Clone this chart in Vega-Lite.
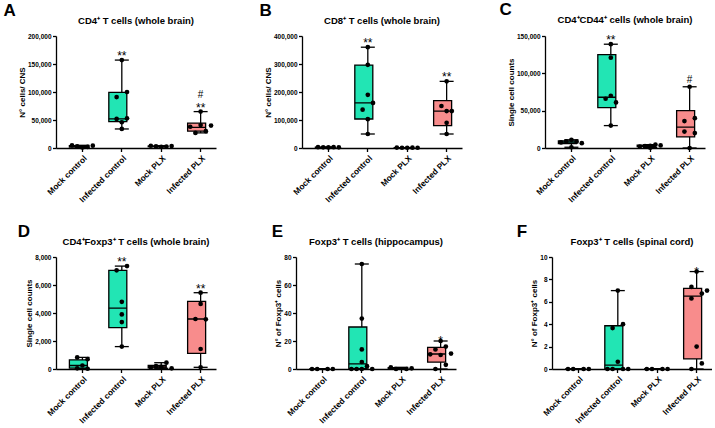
{
"$schema":"https://vega.github.io/schema/vega-lite/v6.json",
"background":"white",
"padding":{"left":3,"top":0,"right":0,"bottom":0},
"datasets":{
"box":[
{"p":"A","g":"Mock control","mn":1000,"q1":1800,"md":3000,"q3":4200,"mx":4800,"sig":"","hash":""},
{"p":"A","g":"Infected control","mn":34000,"q1":47000,"md":52000,"q3":99500,"mx":157000,"sig":"**","hash":""},
{"p":"A","g":"Mock PLX","mn":2000,"q1":2300,"md":3000,"q3":3500,"mx":4000,"sig":"","hash":""},
{"p":"A","g":"Infected PLX","mn":27000,"q1":30000,"md":37000,"q3":44500,"mx":65000,"sig":"**","hash":"#"},
{"p":"B","g":"Mock control","mn":2000,"q1":2200,"md":2500,"q3":3000,"mx":3000,"sig":"","hash":""},
{"p":"B","g":"Infected control","mn":50000,"q1":103600,"md":161000,"q3":296000,"mx":360000,"sig":"**","hash":""},
{"p":"B","g":"Mock PLX","mn":800,"q1":900,"md":1000,"q3":1350,"mx":1500,"sig":"","hash":""},
{"p":"B","g":"Infected PLX","mn":50000,"q1":80000,"md":132000,"q3":169000,"mx":238000,"sig":"**","hash":""},
{"p":"C","g":"Mock control","mn":1000,"q1":6000,"md":8000,"q3":9500,"mx":11000,"sig":"","hash":""},
{"p":"C","g":"Infected control","mn":30000,"q1":54000,"md":68000,"q3":125000,"mx":139000,"sig":"**","hash":""},
{"p":"C","g":"Mock PLX","mn":500,"q1":1800,"md":2800,"q3":3700,"mx":4500,"sig":"","hash":""},
{"p":"C","g":"Infected PLX","mn":0,"q1":15000,"md":28000,"q3":50000,"mx":82000,"sig":"","hash":"#"},
{"p":"D","g":"Mock control","mn":20,"q1":60,"md":250,"q3":650,"mx":830,"sig":"","hash":""},
{"p":"D","g":"Infected control","mn":1600,"q1":2950,"md":4350,"q3":7050,"mx":7350,"sig":"**","hash":""},
{"p":"D","g":"Mock PLX","mn":50,"q1":75,"md":150,"q3":250,"mx":450,"sig":"","hash":""},
{"p":"D","g":"Infected PLX","mn":120,"q1":1120,"md":3570,"q3":4830,"mx":5450,"sig":"**","hash":""},
{"p":"E","g":"Mock control","mn":0,"q1":0,"md":0,"q3":0,"mx":0,"sig":"","hash":""},
{"p":"E","g":"Infected control","mn":0,"q1":0.3,"md":3.7,"q3":30,"mx":75,"sig":"","hash":""},
{"p":"E","g":"Mock PLX","mn":0,"q1":0,"md":0.3,"q3":1,"mx":1.2,"sig":"","hash":""},
{"p":"E","g":"Infected PLX","mn":0,"q1":4.9,"md":10.7,"q3":15.4,"mx":20,"sig":"*","hash":""},
{"p":"F","g":"Mock control","mn":0,"q1":0,"md":0,"q3":0,"mx":0,"sig":"","hash":""},
{"p":"F","g":"Infected control","mn":0,"q1":0,"md":0.35,"q3":3.86,"mx":7,"sig":"","hash":""},
{"p":"F","g":"Mock PLX","mn":0,"q1":0,"md":0,"q3":0,"mx":0,"sig":"","hash":""},
{"p":"F","g":"Infected PLX","mn":0,"q1":0.9,"md":6.5,"q3":7.2,"mx":8.7,"sig":"*","hash":""}
],
"pts":[
{"p":"A","g":"Mock control","v":4800,"r":1},{"p":"A","g":"Mock control","v":3000,"r":2},{"p":"A","g":"Mock control","v":1000,"r":3},{"p":"A","g":"Mock control","v":2000,"r":4},{"p":"A","g":"Mock control","v":4200,"r":5},
{"p":"A","g":"Infected control","v":157000,"r":3},{"p":"A","g":"Infected control","v":100000,"r":4},{"p":"A","g":"Infected control","v":91000,"r":2},{"p":"A","g":"Infected control","v":53000,"r":4},{"p":"A","g":"Infected control","v":52000,"r":2},{"p":"A","g":"Infected control","v":46000,"r":3},{"p":"A","g":"Infected control","v":34000,"r":3},
{"p":"A","g":"Mock PLX","v":4000,"r":1},{"p":"A","g":"Mock PLX","v":3000,"r":2},{"p":"A","g":"Mock PLX","v":2000,"r":3},{"p":"A","g":"Mock PLX","v":2500,"r":4},{"p":"A","g":"Mock PLX","v":3500,"r":5},
{"p":"A","g":"Infected PLX","v":65000,"r":3},{"p":"A","g":"Infected PLX","v":38000,"r":1},{"p":"A","g":"Infected PLX","v":41000,"r":3},{"p":"A","g":"Infected PLX","v":40000,"r":5},{"p":"A","g":"Infected PLX","v":27000,"r":2},{"p":"A","g":"Infected PLX","v":30000,"r":4},
{"p":"B","g":"Mock control","v":3000,"r":1},{"p":"B","g":"Mock control","v":2500,"r":2},{"p":"B","g":"Mock control","v":2000,"r":3},{"p":"B","g":"Mock control","v":3000,"r":4},{"p":"B","g":"Mock control","v":2500,"r":5},
{"p":"B","g":"Infected control","v":360000,"r":3},{"p":"B","g":"Infected control","v":297000,"r":3},{"p":"B","g":"Infected control","v":190000,"r":3},{"p":"B","g":"Infected control","v":161000,"r":4},{"p":"B","g":"Infected control","v":137000,"r":2},{"p":"B","g":"Infected control","v":103000,"r":3},{"p":"B","g":"Infected control","v":50000,"r":3},
{"p":"B","g":"Mock PLX","v":1500,"r":1},{"p":"B","g":"Mock PLX","v":1000,"r":2},{"p":"B","g":"Mock PLX","v":800,"r":3},{"p":"B","g":"Mock PLX","v":1200,"r":4},{"p":"B","g":"Mock PLX","v":1000,"r":5},
{"p":"B","g":"Infected PLX","v":238000,"r":3},{"p":"B","g":"Infected PLX","v":150000,"r":2},{"p":"B","g":"Infected PLX","v":132000,"r":3},{"p":"B","g":"Infected PLX","v":132000,"r":4},{"p":"B","g":"Infected PLX","v":90000,"r":3},{"p":"B","g":"Infected PLX","v":50000,"r":3},
{"p":"C","g":"Mock control","v":11000,"r":3},{"p":"C","g":"Mock control","v":9000,"r":2},{"p":"C","g":"Mock control","v":8500,"r":4},{"p":"C","g":"Mock control","v":7500,"r":1},{"p":"C","g":"Mock control","v":6500,"r":5},{"p":"C","g":"Mock control","v":1000,"r":3},
{"p":"C","g":"Infected control","v":139000,"r":3},{"p":"C","g":"Infected control","v":121000,"r":3},{"p":"C","g":"Infected control","v":70000,"r":3},{"p":"C","g":"Infected control","v":66000,"r":2},{"p":"C","g":"Infected control","v":61000,"r":4},{"p":"C","g":"Infected control","v":30000,"r":3},
{"p":"C","g":"Mock PLX","v":4500,"r":4},{"p":"C","g":"Mock PLX","v":3500,"r":5},{"p":"C","g":"Mock PLX","v":3000,"r":3},{"p":"C","g":"Mock PLX","v":2500,"r":2},{"p":"C","g":"Mock PLX","v":2000,"r":1},{"p":"C","g":"Mock PLX","v":500,"r":3},
{"p":"C","g":"Infected PLX","v":82000,"r":3},{"p":"C","g":"Infected PLX","v":40000,"r":4},{"p":"C","g":"Infected PLX","v":36000,"r":2},{"p":"C","g":"Infected PLX","v":22000,"r":2},{"p":"C","g":"Infected PLX","v":20000,"r":4},{"p":"C","g":"Infected PLX","v":0,"r":3},
{"p":"D","g":"Mock control","v":830,"r":2},{"p":"D","g":"Mock control","v":700,"r":4},{"p":"D","g":"Mock control","v":250,"r":3},{"p":"D","g":"Mock control","v":50,"r":2},{"p":"D","g":"Mock control","v":20,"r":4},
{"p":"D","g":"Infected control","v":7350,"r":4},{"p":"D","g":"Infected control","v":7050,"r":2},{"p":"D","g":"Infected control","v":4800,"r":3},{"p":"D","g":"Infected control","v":3900,"r":3},{"p":"D","g":"Infected control","v":3350,"r":3},{"p":"D","g":"Infected control","v":1600,"r":3},
{"p":"D","g":"Mock PLX","v":450,"r":4},{"p":"D","g":"Mock PLX","v":200,"r":2},{"p":"D","g":"Mock PLX","v":150,"r":3},{"p":"D","g":"Mock PLX","v":100,"r":1},{"p":"D","g":"Mock PLX","v":50,"r":5},
{"p":"D","g":"Infected PLX","v":5450,"r":3},{"p":"D","g":"Infected PLX","v":4650,"r":3},{"p":"D","g":"Infected PLX","v":3570,"r":2},{"p":"D","g":"Infected PLX","v":3550,"r":4},{"p":"D","g":"Infected PLX","v":1430,"r":3},{"p":"D","g":"Infected PLX","v":120,"r":3},
{"p":"E","g":"Mock control","v":0,"r":1},{"p":"E","g":"Mock control","v":0,"r":2},{"p":"E","g":"Mock control","v":0,"r":4},{"p":"E","g":"Mock control","v":0,"r":5},
{"p":"E","g":"Infected control","v":75,"r":3},{"p":"E","g":"Infected control","v":36,"r":3},{"p":"E","g":"Infected control","v":14,"r":3},{"p":"E","g":"Infected control","v":5,"r":3},{"p":"E","g":"Infected control","v":2,"r":4},{"p":"E","g":"Infected control","v":0,"r":1},{"p":"E","g":"Infected control","v":0,"r":2},{"p":"E","g":"Infected control","v":0,"r":3},{"p":"E","g":"Infected control","v":0,"r":5},
{"p":"E","g":"Mock PLX","v":1.2,"r":1},{"p":"E","g":"Mock PLX","v":0,"r":2},{"p":"E","g":"Mock PLX","v":0,"r":4},{"p":"E","g":"Mock PLX","v":0.5,"r":5},
{"p":"E","g":"Infected PLX","v":20,"r":3},{"p":"E","g":"Infected PLX","v":16,"r":4},{"p":"E","g":"Infected PLX","v":14,"r":2},{"p":"E","g":"Infected PLX","v":11,"r":5},{"p":"E","g":"Infected PLX","v":10.5,"r":1},{"p":"E","g":"Infected PLX","v":10,"r":3},{"p":"E","g":"Infected PLX","v":3,"r":4},{"p":"E","g":"Infected PLX","v":0,"r":2},
{"p":"F","g":"Mock control","v":0,"r":1},{"p":"F","g":"Mock control","v":0,"r":2},{"p":"F","g":"Mock control","v":0,"r":4},{"p":"F","g":"Mock control","v":0,"r":5},
{"p":"F","g":"Infected control","v":7,"r":3},{"p":"F","g":"Infected control","v":4,"r":4},{"p":"F","g":"Infected control","v":3.65,"r":2},{"p":"F","g":"Infected control","v":0.65,"r":3},{"p":"F","g":"Infected control","v":0,"r":1},{"p":"F","g":"Infected control","v":0,"r":2},{"p":"F","g":"Infected control","v":0,"r":4},{"p":"F","g":"Infected control","v":0,"r":5},
{"p":"F","g":"Mock PLX","v":0,"r":1},{"p":"F","g":"Mock PLX","v":0,"r":2},{"p":"F","g":"Mock PLX","v":0,"r":4},{"p":"F","g":"Mock PLX","v":0,"r":5},
{"p":"F","g":"Infected PLX","v":8.7,"r":3},{"p":"F","g":"Infected PLX","v":7.33,"r":2},{"p":"F","g":"Infected PLX","v":7,"r":5},{"p":"F","g":"Infected PLX","v":6.73,"r":4},{"p":"F","g":"Infected PLX","v":6.3,"r":2},{"p":"F","g":"Infected PLX","v":2,"r":3},{"p":"F","g":"Infected PLX","v":0.5,"r":4},{"p":"F","g":"Infected PLX","v":0,"r":2}
]
},
"spacing":18,
"vconcat":[
{"spacing":43,"hconcat":[
{"title":{"text":"A","anchor":"start","frame":"bounds","fontSize":17,"offset":-4,"dx":-15},"vconcat":[{
"width":160,"height":112,"title":{"text":"CD4⁺ T cells (whole brain)"},
"encoding":{"x":{"field":"g","type":"nominal","title":null,"sort":["Mock control","Infected control","Mock PLX","Infected PLX"],"scale":{"paddingInner":0.34,"paddingOuter":0.2,"align":0.85}}},
"layer":[
{"data":{"name":"box"},"transform":[{"filter":"datum.p=='A'"}],"mark":{"type":"rule","color":"black","strokeWidth":1.3},"encoding":{"y":{"field":"mn","type":"quantitative","title":"N° cells/ CNS","scale":{"domain":[0,200000],"nice":false},"axis":{"values":[0,50000,100000,150000,200000],"labelExpr":"format(datum.value, ',')"}},"y2":{"field":"mx"}}},
{"data":{"name":"box"},"transform":[{"filter":"datum.p=='A'"}],"mark":{"type":"bar","width":{"band":1},"stroke":"black","strokeWidth":1.3},"encoding":{"y":{"field":"q1","type":"quantitative","title":"N° cells/ CNS","scale":{"domain":[0,200000],"nice":false},"axis":{"values":[0,50000,100000,150000,200000],"labelExpr":"format(datum.value, ',')"}},"y2":{"field":"q3"},"color":{"field":"g","type":"nominal","legend":null,"scale":{"domain":["Mock control","Infected control","Mock PLX","Infected PLX"],"range":["#22E5B4","#22E5B4","#F88C8C","#F88C8C"]}}}},
{"data":{"name":"box"},"transform":[{"filter":"datum.p=='A'"}],"mark":{"type":"bar","width":{"band":1},"fillOpacity":0,"stroke":"black","strokeWidth":1.3},"encoding":{"y":{"field":"md","type":"quantitative","title":"N° cells/ CNS","scale":{"domain":[0,200000],"nice":false},"axis":{"values":[0,50000,100000,150000,200000],"labelExpr":"format(datum.value, ',')"}},"y2":{"field":"md"}}},
{"data":{"name":"box"},"transform":[{"filter":"datum.p=='A'"}],"mark":{"type":"tick","color":"black","size":14,"thickness":1.3,"opacity":1},"encoding":{"y":{"field":"mn","type":"quantitative","title":"N° cells/ CNS","scale":{"domain":[0,200000],"nice":false},"axis":{"values":[0,50000,100000,150000,200000],"labelExpr":"format(datum.value, ',')"}}}},
{"data":{"name":"box"},"transform":[{"filter":"datum.p=='A'"}],"mark":{"type":"tick","color":"black","size":14,"thickness":1.3,"opacity":1},"encoding":{"y":{"field":"mx","type":"quantitative","title":"N° cells/ CNS","scale":{"domain":[0,200000],"nice":false},"axis":{"values":[0,50000,100000,150000,200000],"labelExpr":"format(datum.value, ',')"}}}},
{"data":{"name":"pts"},"transform":[{"filter":"datum.p=='A'"}],"mark":{"type":"circle","size":22,"color":"black","opacity":1},"encoding":{"y":{"field":"v","type":"quantitative","title":"N° cells/ CNS","scale":{"domain":[0,200000],"nice":false},"axis":{"values":[0,50000,100000,150000,200000],"labelExpr":"format(datum.value, ',')"}},"xOffset":{"field":"r","type":"ordinal","scale":{"domain":[1,2,3,4,5]}}}},
{"data":{"name":"box"},"transform":[{"filter":"datum.p=='A'"}],"mark":{"type":"text","font":"Liberation Sans","fontSize":12,"baseline":"alphabetic","dy":0,"color":"black"},"encoding":{"y":{"field":"mx","type":"quantitative","title":"N° cells/ CNS","scale":{"domain":[0,200000],"nice":false},"axis":{"values":[0,50000,100000,150000,200000],"labelExpr":"format(datum.value, ',')"}},"text":{"field":"sig"}}},
{"data":{"name":"box"},"transform":[{"filter":"datum.p=='A'"}],"mark":{"type":"text","font":"Liberation Sans","fontSize":10,"baseline":"alphabetic","dy":-14,"color":"black"},"encoding":{"y":{"field":"mx","type":"quantitative","title":"N° cells/ CNS","scale":{"domain":[0,200000],"nice":false},"axis":{"values":[0,50000,100000,150000,200000],"labelExpr":"format(datum.value, ',')"}},"text":{"field":"hash"}}}
]}]},
{"spacing":37,"hconcat":[
{"title":{"text":"B","anchor":"start","frame":"bounds","fontSize":17,"offset":-4,"dx":-5},"vconcat":[{
"width":160,"height":112,"title":{"text":"CD8⁺ T cells (whole brain)"},
"encoding":{"x":{"field":"g","type":"nominal","title":null,"sort":["Mock control","Infected control","Mock PLX","Infected PLX"],"scale":{"paddingInner":0.34,"paddingOuter":0.2,"align":0.85}}},
"layer":[
{"data":{"name":"box"},"transform":[{"filter":"datum.p=='B'"}],"mark":{"type":"rule","color":"black","strokeWidth":1.3},"encoding":{"y":{"field":"mn","type":"quantitative","title":"N° cells/ CNS","scale":{"domain":[0,400000],"nice":false},"axis":{"values":[0,100000,200000,300000,400000],"labelExpr":"format(datum.value, ',')"}},"y2":{"field":"mx"}}},
{"data":{"name":"box"},"transform":[{"filter":"datum.p=='B'"}],"mark":{"type":"bar","width":{"band":1},"stroke":"black","strokeWidth":1.3},"encoding":{"y":{"field":"q1","type":"quantitative","title":"N° cells/ CNS","scale":{"domain":[0,400000],"nice":false},"axis":{"values":[0,100000,200000,300000,400000],"labelExpr":"format(datum.value, ',')"}},"y2":{"field":"q3"},"color":{"field":"g","type":"nominal","legend":null,"scale":{"domain":["Mock control","Infected control","Mock PLX","Infected PLX"],"range":["#22E5B4","#22E5B4","#F88C8C","#F88C8C"]}}}},
{"data":{"name":"box"},"transform":[{"filter":"datum.p=='B'"}],"mark":{"type":"bar","width":{"band":1},"fillOpacity":0,"stroke":"black","strokeWidth":1.3},"encoding":{"y":{"field":"md","type":"quantitative","title":"N° cells/ CNS","scale":{"domain":[0,400000],"nice":false},"axis":{"values":[0,100000,200000,300000,400000],"labelExpr":"format(datum.value, ',')"}},"y2":{"field":"md"}}},
{"data":{"name":"box"},"transform":[{"filter":"datum.p=='B'"}],"mark":{"type":"tick","color":"black","size":14,"thickness":1.3,"opacity":1},"encoding":{"y":{"field":"mn","type":"quantitative","title":"N° cells/ CNS","scale":{"domain":[0,400000],"nice":false},"axis":{"values":[0,100000,200000,300000,400000],"labelExpr":"format(datum.value, ',')"}}}},
{"data":{"name":"box"},"transform":[{"filter":"datum.p=='B'"}],"mark":{"type":"tick","color":"black","size":14,"thickness":1.3,"opacity":1},"encoding":{"y":{"field":"mx","type":"quantitative","title":"N° cells/ CNS","scale":{"domain":[0,400000],"nice":false},"axis":{"values":[0,100000,200000,300000,400000],"labelExpr":"format(datum.value, ',')"}}}},
{"data":{"name":"pts"},"transform":[{"filter":"datum.p=='B'"}],"mark":{"type":"circle","size":22,"color":"black","opacity":1},"encoding":{"y":{"field":"v","type":"quantitative","title":"N° cells/ CNS","scale":{"domain":[0,400000],"nice":false},"axis":{"values":[0,100000,200000,300000,400000],"labelExpr":"format(datum.value, ',')"}},"xOffset":{"field":"r","type":"ordinal","scale":{"domain":[1,2,3,4,5]}}}},
{"data":{"name":"box"},"transform":[{"filter":"datum.p=='B'"}],"mark":{"type":"text","font":"Liberation Sans","fontSize":12,"baseline":"alphabetic","dy":0,"color":"black"},"encoding":{"y":{"field":"mx","type":"quantitative","title":"N° cells/ CNS","scale":{"domain":[0,400000],"nice":false},"axis":{"values":[0,100000,200000,300000,400000],"labelExpr":"format(datum.value, ',')"}},"text":{"field":"sig"}}}
]}]},
{"title":{"text":"C","anchor":"start","frame":"bounds","fontSize":17,"offset":-4,"dx":-8},"vconcat":[{
"width":160,"height":112,"title":{"text":"CD4⁺CD44⁺ cells (whole brain)"},
"encoding":{"x":{"field":"g","type":"nominal","title":null,"sort":["Mock control","Infected control","Mock PLX","Infected PLX"],"scale":{"paddingInner":0.34,"paddingOuter":0.2,"align":0.85}}},
"layer":[
{"data":{"name":"box"},"transform":[{"filter":"datum.p=='C'"}],"mark":{"type":"rule","color":"black","strokeWidth":1.3},"encoding":{"y":{"field":"mn","type":"quantitative","title":"Single cell counts","scale":{"domain":[0,150000],"nice":false},"axis":{"values":[0,50000,100000,150000],"labelExpr":"format(datum.value, ',')"}},"y2":{"field":"mx"}}},
{"data":{"name":"box"},"transform":[{"filter":"datum.p=='C'"}],"mark":{"type":"bar","width":{"band":1},"stroke":"black","strokeWidth":1.3},"encoding":{"y":{"field":"q1","type":"quantitative","title":"Single cell counts","scale":{"domain":[0,150000],"nice":false},"axis":{"values":[0,50000,100000,150000],"labelExpr":"format(datum.value, ',')"}},"y2":{"field":"q3"},"color":{"field":"g","type":"nominal","legend":null,"scale":{"domain":["Mock control","Infected control","Mock PLX","Infected PLX"],"range":["#22E5B4","#22E5B4","#F88C8C","#F88C8C"]}}}},
{"data":{"name":"box"},"transform":[{"filter":"datum.p=='C'"}],"mark":{"type":"bar","width":{"band":1},"fillOpacity":0,"stroke":"black","strokeWidth":1.3},"encoding":{"y":{"field":"md","type":"quantitative","title":"Single cell counts","scale":{"domain":[0,150000],"nice":false},"axis":{"values":[0,50000,100000,150000],"labelExpr":"format(datum.value, ',')"}},"y2":{"field":"md"}}},
{"data":{"name":"box"},"transform":[{"filter":"datum.p=='C'"}],"mark":{"type":"tick","color":"black","size":14,"thickness":1.3,"opacity":1},"encoding":{"y":{"field":"mn","type":"quantitative","title":"Single cell counts","scale":{"domain":[0,150000],"nice":false},"axis":{"values":[0,50000,100000,150000],"labelExpr":"format(datum.value, ',')"}}}},
{"data":{"name":"box"},"transform":[{"filter":"datum.p=='C'"}],"mark":{"type":"tick","color":"black","size":14,"thickness":1.3,"opacity":1},"encoding":{"y":{"field":"mx","type":"quantitative","title":"Single cell counts","scale":{"domain":[0,150000],"nice":false},"axis":{"values":[0,50000,100000,150000],"labelExpr":"format(datum.value, ',')"}}}},
{"data":{"name":"pts"},"transform":[{"filter":"datum.p=='C'"}],"mark":{"type":"circle","size":22,"color":"black","opacity":1},"encoding":{"y":{"field":"v","type":"quantitative","title":"Single cell counts","scale":{"domain":[0,150000],"nice":false},"axis":{"values":[0,50000,100000,150000],"labelExpr":"format(datum.value, ',')"}},"xOffset":{"field":"r","type":"ordinal","scale":{"domain":[1,2,3,4,5]}}}},
{"data":{"name":"box"},"transform":[{"filter":"datum.p=='C'"}],"mark":{"type":"text","font":"Liberation Sans","fontSize":12,"baseline":"alphabetic","dy":0,"color":"black"},"encoding":{"y":{"field":"mx","type":"quantitative","title":"Single cell counts","scale":{"domain":[0,150000],"nice":false},"axis":{"values":[0,50000,100000,150000],"labelExpr":"format(datum.value, ',')"}},"text":{"field":"sig"}}},
{"data":{"name":"box"},"transform":[{"filter":"datum.p=='C'"}],"mark":{"type":"text","font":"Liberation Sans","fontSize":10,"baseline":"alphabetic","dy":-4,"color":"black"},"encoding":{"y":{"field":"mx","type":"quantitative","title":"Single cell counts","scale":{"domain":[0,150000],"nice":false},"axis":{"values":[0,50000,100000,150000],"labelExpr":"format(datum.value, ',')"}},"text":{"field":"hash"}}}
]}]}
]}
]},
{"spacing":55,"hconcat":[
{"title":{"text":"D","anchor":"start","frame":"bounds","fontSize":17,"offset":-4,"dx":-8},"vconcat":[{
"width":160,"height":112,"title":{"text":"CD4⁺Foxp3⁺ T cells (whole brain)"},
"encoding":{"x":{"field":"g","type":"nominal","title":null,"sort":["Mock control","Infected control","Mock PLX","Infected PLX"],"scale":{"paddingInner":0.34,"paddingOuter":0.2,"align":0.85}}},
"layer":[
{"data":{"name":"box"},"transform":[{"filter":"datum.p=='D'"}],"mark":{"type":"rule","color":"black","strokeWidth":1.3},"encoding":{"y":{"field":"mn","type":"quantitative","title":"Single cell counts","scale":{"domain":[0,8000],"nice":false},"axis":{"values":[0,2000,4000,6000,8000],"labelExpr":"format(datum.value, ',')"}},"y2":{"field":"mx"}}},
{"data":{"name":"box"},"transform":[{"filter":"datum.p=='D'"}],"mark":{"type":"bar","width":{"band":1},"stroke":"black","strokeWidth":1.3},"encoding":{"y":{"field":"q1","type":"quantitative","title":"Single cell counts","scale":{"domain":[0,8000],"nice":false},"axis":{"values":[0,2000,4000,6000,8000],"labelExpr":"format(datum.value, ',')"}},"y2":{"field":"q3"},"color":{"field":"g","type":"nominal","legend":null,"scale":{"domain":["Mock control","Infected control","Mock PLX","Infected PLX"],"range":["#22E5B4","#22E5B4","#F88C8C","#F88C8C"]}}}},
{"data":{"name":"box"},"transform":[{"filter":"datum.p=='D'"}],"mark":{"type":"bar","width":{"band":1},"fillOpacity":0,"stroke":"black","strokeWidth":1.3},"encoding":{"y":{"field":"md","type":"quantitative","title":"Single cell counts","scale":{"domain":[0,8000],"nice":false},"axis":{"values":[0,2000,4000,6000,8000],"labelExpr":"format(datum.value, ',')"}},"y2":{"field":"md"}}},
{"data":{"name":"box"},"transform":[{"filter":"datum.p=='D'"}],"mark":{"type":"tick","color":"black","size":14,"thickness":1.3,"opacity":1},"encoding":{"y":{"field":"mn","type":"quantitative","title":"Single cell counts","scale":{"domain":[0,8000],"nice":false},"axis":{"values":[0,2000,4000,6000,8000],"labelExpr":"format(datum.value, ',')"}}}},
{"data":{"name":"box"},"transform":[{"filter":"datum.p=='D'"}],"mark":{"type":"tick","color":"black","size":14,"thickness":1.3,"opacity":1},"encoding":{"y":{"field":"mx","type":"quantitative","title":"Single cell counts","scale":{"domain":[0,8000],"nice":false},"axis":{"values":[0,2000,4000,6000,8000],"labelExpr":"format(datum.value, ',')"}}}},
{"data":{"name":"pts"},"transform":[{"filter":"datum.p=='D'"}],"mark":{"type":"circle","size":22,"color":"black","opacity":1},"encoding":{"y":{"field":"v","type":"quantitative","title":"Single cell counts","scale":{"domain":[0,8000],"nice":false},"axis":{"values":[0,2000,4000,6000,8000],"labelExpr":"format(datum.value, ',')"}},"xOffset":{"field":"r","type":"ordinal","scale":{"domain":[1,2,3,4,5]}}}},
{"data":{"name":"box"},"transform":[{"filter":"datum.p=='D'"}],"mark":{"type":"text","font":"Liberation Sans","fontSize":12,"baseline":"alphabetic","dy":0,"color":"black"},"encoding":{"y":{"field":"mx","type":"quantitative","title":"Single cell counts","scale":{"domain":[0,8000],"nice":false},"axis":{"values":[0,2000,4000,6000,8000],"labelExpr":"format(datum.value, ',')"}},"text":{"field":"sig"}}}
]}]},
{"spacing":60,"hconcat":[
{"title":{"text":"E","anchor":"start","frame":"bounds","fontSize":17,"offset":-4,"dx":-3},"vconcat":[{
"width":160,"height":112,"title":{"text":"Foxp3⁺ T cells (hippocampus)"},
"encoding":{"x":{"field":"g","type":"nominal","title":null,"sort":["Mock control","Infected control","Mock PLX","Infected PLX"],"scale":{"paddingInner":0.34,"paddingOuter":0.2,"align":0.85}}},
"layer":[
{"data":{"name":"box"},"transform":[{"filter":"datum.p=='E'"}],"mark":{"type":"rule","color":"black","strokeWidth":1.3},"encoding":{"y":{"field":"mn","type":"quantitative","title":"N° of Foxp3⁺ cells","scale":{"domain":[0,80],"nice":false},"axis":{"values":[0,20,40,60,80]}},"y2":{"field":"mx"}}},
{"data":{"name":"box"},"transform":[{"filter":"datum.p=='E'"}],"mark":{"type":"bar","width":{"band":1},"stroke":"black","strokeWidth":1.3},"encoding":{"y":{"field":"q1","type":"quantitative","title":"N° of Foxp3⁺ cells","scale":{"domain":[0,80],"nice":false},"axis":{"values":[0,20,40,60,80]}},"y2":{"field":"q3"},"color":{"field":"g","type":"nominal","legend":null,"scale":{"domain":["Mock control","Infected control","Mock PLX","Infected PLX"],"range":["#22E5B4","#22E5B4","#F88C8C","#F88C8C"]}}}},
{"data":{"name":"box"},"transform":[{"filter":"datum.p=='E'"}],"mark":{"type":"bar","width":{"band":1},"fillOpacity":0,"stroke":"black","strokeWidth":1.3},"encoding":{"y":{"field":"md","type":"quantitative","title":"N° of Foxp3⁺ cells","scale":{"domain":[0,80],"nice":false},"axis":{"values":[0,20,40,60,80]}},"y2":{"field":"md"}}},
{"data":{"name":"box"},"transform":[{"filter":"datum.p=='E'"}],"mark":{"type":"tick","color":"black","size":14,"thickness":1.3,"opacity":1},"encoding":{"y":{"field":"mn","type":"quantitative","title":"N° of Foxp3⁺ cells","scale":{"domain":[0,80],"nice":false},"axis":{"values":[0,20,40,60,80]}}}},
{"data":{"name":"box"},"transform":[{"filter":"datum.p=='E'"}],"mark":{"type":"tick","color":"black","size":14,"thickness":1.3,"opacity":1},"encoding":{"y":{"field":"mx","type":"quantitative","title":"N° of Foxp3⁺ cells","scale":{"domain":[0,80],"nice":false},"axis":{"values":[0,20,40,60,80]}}}},
{"data":{"name":"pts"},"transform":[{"filter":"datum.p=='E'"}],"mark":{"type":"circle","size":22,"color":"black","opacity":1},"encoding":{"y":{"field":"v","type":"quantitative","title":"N° of Foxp3⁺ cells","scale":{"domain":[0,80],"nice":false},"axis":{"values":[0,20,40,60,80]}},"xOffset":{"field":"r","type":"ordinal","scale":{"domain":[1,2,3,4,5]}}}},
{"data":{"name":"box"},"transform":[{"filter":"datum.p=='E'"}],"mark":{"type":"text","font":"Liberation Sans","fontSize":12,"baseline":"alphabetic","dy":4,"color":"black"},"encoding":{"y":{"field":"mx","type":"quantitative","title":"N° of Foxp3⁺ cells","scale":{"domain":[0,80],"nice":false},"axis":{"values":[0,20,40,60,80]}},"text":{"field":"sig"}}}
]}]},
{"title":{"text":"F","anchor":"start","frame":"bounds","fontSize":17,"offset":-4,"dx":-14},"vconcat":[{
"width":160,"height":112,"title":{"text":"Foxp3⁺ T cells (spinal cord)"},
"encoding":{"x":{"field":"g","type":"nominal","title":null,"sort":["Mock control","Infected control","Mock PLX","Infected PLX"],"scale":{"paddingInner":0.34,"paddingOuter":0.2,"align":0.85}}},
"layer":[
{"data":{"name":"box"},"transform":[{"filter":"datum.p=='F'"}],"mark":{"type":"rule","color":"black","strokeWidth":1.3},"encoding":{"y":{"field":"mn","type":"quantitative","title":"N° of Foxp3⁺ cells","scale":{"domain":[0,10],"nice":false},"axis":{"values":[0,2,4,6,8,10]}},"y2":{"field":"mx"}}},
{"data":{"name":"box"},"transform":[{"filter":"datum.p=='F'"}],"mark":{"type":"bar","width":{"band":1},"stroke":"black","strokeWidth":1.3},"encoding":{"y":{"field":"q1","type":"quantitative","title":"N° of Foxp3⁺ cells","scale":{"domain":[0,10],"nice":false},"axis":{"values":[0,2,4,6,8,10]}},"y2":{"field":"q3"},"color":{"field":"g","type":"nominal","legend":null,"scale":{"domain":["Mock control","Infected control","Mock PLX","Infected PLX"],"range":["#22E5B4","#22E5B4","#F88C8C","#F88C8C"]}}}},
{"data":{"name":"box"},"transform":[{"filter":"datum.p=='F'"}],"mark":{"type":"bar","width":{"band":1},"fillOpacity":0,"stroke":"black","strokeWidth":1.3},"encoding":{"y":{"field":"md","type":"quantitative","title":"N° of Foxp3⁺ cells","scale":{"domain":[0,10],"nice":false},"axis":{"values":[0,2,4,6,8,10]}},"y2":{"field":"md"}}},
{"data":{"name":"box"},"transform":[{"filter":"datum.p=='F'"}],"mark":{"type":"tick","color":"black","size":14,"thickness":1.3,"opacity":1},"encoding":{"y":{"field":"mn","type":"quantitative","title":"N° of Foxp3⁺ cells","scale":{"domain":[0,10],"nice":false},"axis":{"values":[0,2,4,6,8,10]}}}},
{"data":{"name":"box"},"transform":[{"filter":"datum.p=='F'"}],"mark":{"type":"tick","color":"black","size":14,"thickness":1.3,"opacity":1},"encoding":{"y":{"field":"mx","type":"quantitative","title":"N° of Foxp3⁺ cells","scale":{"domain":[0,10],"nice":false},"axis":{"values":[0,2,4,6,8,10]}}}},
{"data":{"name":"pts"},"transform":[{"filter":"datum.p=='F'"}],"mark":{"type":"circle","size":22,"color":"black","opacity":1},"encoding":{"y":{"field":"v","type":"quantitative","title":"N° of Foxp3⁺ cells","scale":{"domain":[0,10],"nice":false},"axis":{"values":[0,2,4,6,8,10]}},"xOffset":{"field":"r","type":"ordinal","scale":{"domain":[1,2,3,4,5]}}}},
{"data":{"name":"box"},"transform":[{"filter":"datum.p=='F'"}],"mark":{"type":"text","font":"Liberation Sans","fontSize":12,"baseline":"alphabetic","dy":4,"color":"black"},"encoding":{"y":{"field":"mx","type":"quantitative","title":"N° of Foxp3⁺ cells","scale":{"domain":[0,10],"nice":false},"axis":{"values":[0,2,4,6,8,10]}},"text":{"field":"sig"}}}
]}]}
]}
]}
],
"config":{
"view":{"stroke":null},
"font":"Liberation Sans",
"title":{"font":"Liberation Sans","fontSize":9.5,"fontWeight":"bold","color":"black","offset":8},
"axis":{"grid":false,"domainColor":"black","domainWidth":1.3,"tickColor":"black","tickWidth":1.3,"tickSize":3.5,"labelColor":"black","labelFont":"Liberation Sans","labelFontWeight":"bold","titleFont":"Liberation Sans","titleFontWeight":"bold","titleColor":"black"},
"axisX":{"labelAngle":-45,"labelFontSize":8.3,"labelPadding":2},
"axisY":{"labelFontSize":6.5,"titleFontSize":8,"titlePadding":1,"labelPadding":1.5}
}
}
